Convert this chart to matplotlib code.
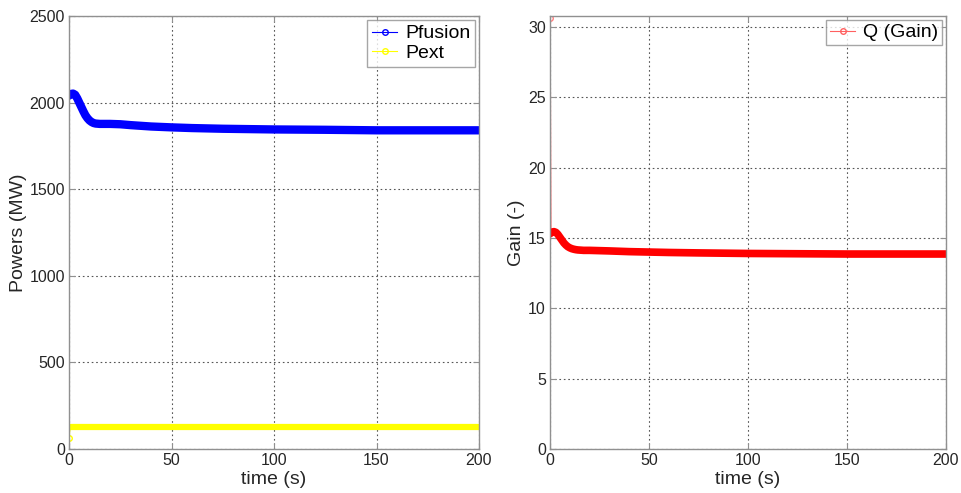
import matplotlib
matplotlib.use("Agg")
import matplotlib.pyplot as plt
from matplotlib.lines import Line2D

plt.rcParams['font.family'] = ['Liberation Sans', 'DejaVu Sans']

# Data
time_s = [0, 1, 2, 3, 4, 5, 6, 7, 8, 9, 10, 11, 12, 13, 14, 15, 17, 20, 25, 30,
          40, 50, 60, 75, 100, 125, 150, 175, 200]
pfusion_mw = [2040, 2050, 2052, 2045, 2025, 2000, 1975, 1950, 1927, 1910, 1897, 1888,
              1882, 1879, 1878, 1877, 1877, 1877, 1875, 1870, 1862, 1857, 1853, 1849,
              1845, 1843, 1840, 1840, 1840]
pext_time = [0, 0.5, 200]
pext_mw = [65, 129, 129]

q_time0 = [0, 0.5]
q_first = [30.65, 15.3]
q_gain = [15.3, 15.42, 15.45, 15.4, 15.25, 15.05, 14.85, 14.65, 14.5, 14.38, 14.3, 14.24,
          14.2, 14.17, 14.15, 14.14, 14.12, 14.12, 14.1, 14.08, 14.03, 14.0, 13.97, 13.94,
          13.9, 13.88, 13.86, 13.86, 13.86]

fig = plt.figure(figsize=(9.62, 4.93), dpi=100)
W, H = 962, 493
top_px, bot_px = 16, 449
ax1 = fig.add_axes([69 / W, 1 - bot_px / H, (479 - 69) / W, (bot_px - top_px) / H])
ax2 = fig.add_axes([550 / W, 1 - bot_px / H, (946 - 550) / W, (bot_px - top_px) / H])

spine_col = '#909090'
for ax in (ax1, ax2):
    for s in ax.spines.values():
        s.set_color(spine_col)
        s.set_linewidth(1.0)
    ax.tick_params(direction='in', length=4, colors=spine_col, labelcolor='#262626',
                   labelsize=11.5, top=True, right=True, pad=3)
    ax.grid(True, linestyle=(0, (1.5, 2.5)), color='#555555', linewidth=0.8)
    ax.set_xlim(0, 200)
    ax.set_xticks([0, 50, 100, 150, 200])
    ax.set_xlabel('time (s)', fontsize=14, color='#262626', labelpad=2)
    ax.set_axisbelow(True)

# Left panel
ax1.plot(time_s, pfusion_mw, color='#0000ff', linewidth=6, solid_capstyle='round',
         solid_joinstyle='round')
ax1.plot(pext_time[:2], pext_mw[:2], color='#ffff00', linewidth=1, marker='o',
         markersize=4, markerfacecolor='none', markevery=[0])
ax1.plot(pext_time[1:], pext_mw[1:], color='#ffff00', linewidth=4.5, solid_capstyle='round')
ax1.set_ylim(0, 2500)
ax1.set_yticks([0, 500, 1000, 1500, 2000, 2500])
ax1.set_ylabel('Powers (MW)', fontsize=14, color='#262626', labelpad=2)
h1 = [Line2D([], [], color='#0000ff', lw=0.8, marker='o', markersize=4, markerfacecolor='none'),
      Line2D([], [], color='#ffff00', lw=0.8, marker='o', markersize=4, markerfacecolor='none')]
leg1 = ax1.legend(h1, ['Pfusion', 'Pext'], loc='upper right', fontsize=14, frameon=True,
                  fancybox=False, edgecolor='#909090', handlelength=1.3, handletextpad=0.4,
                  borderpad=0.25, labelspacing=0.1, borderaxespad=0.2)
leg1.get_frame().set_linewidth(1.0)

# Right panel
ax2.plot(q_time0, q_first, color='#ff8080', linewidth=1, marker='o', markersize=4,
         markerfacecolor='none', markevery=[0])
ax2.plot(time_s, q_gain, color='#ff0000', linewidth=5.5, solid_capstyle='round',
         solid_joinstyle='round')
ax2.set_ylim(0, 30.78)
ax2.set_yticks([0, 5, 10, 15, 20, 25, 30])
ax2.set_ylabel('Gain (-)', fontsize=14, color='#262626', labelpad=2)
h2 = [Line2D([], [], color='#ff6060', lw=0.8, marker='o', markersize=4, markerfacecolor='none')]
leg2 = ax2.legend(h2, ['Q (Gain)'], loc='upper right', fontsize=14, frameon=True,
                  fancybox=False, edgecolor='#909090', handlelength=1.3, handletextpad=0.4,
                  borderpad=0.2, borderaxespad=0.2)
leg2.get_frame().set_linewidth(1.0)

fig.savefig('out.png', dpi=100, facecolor='white')
